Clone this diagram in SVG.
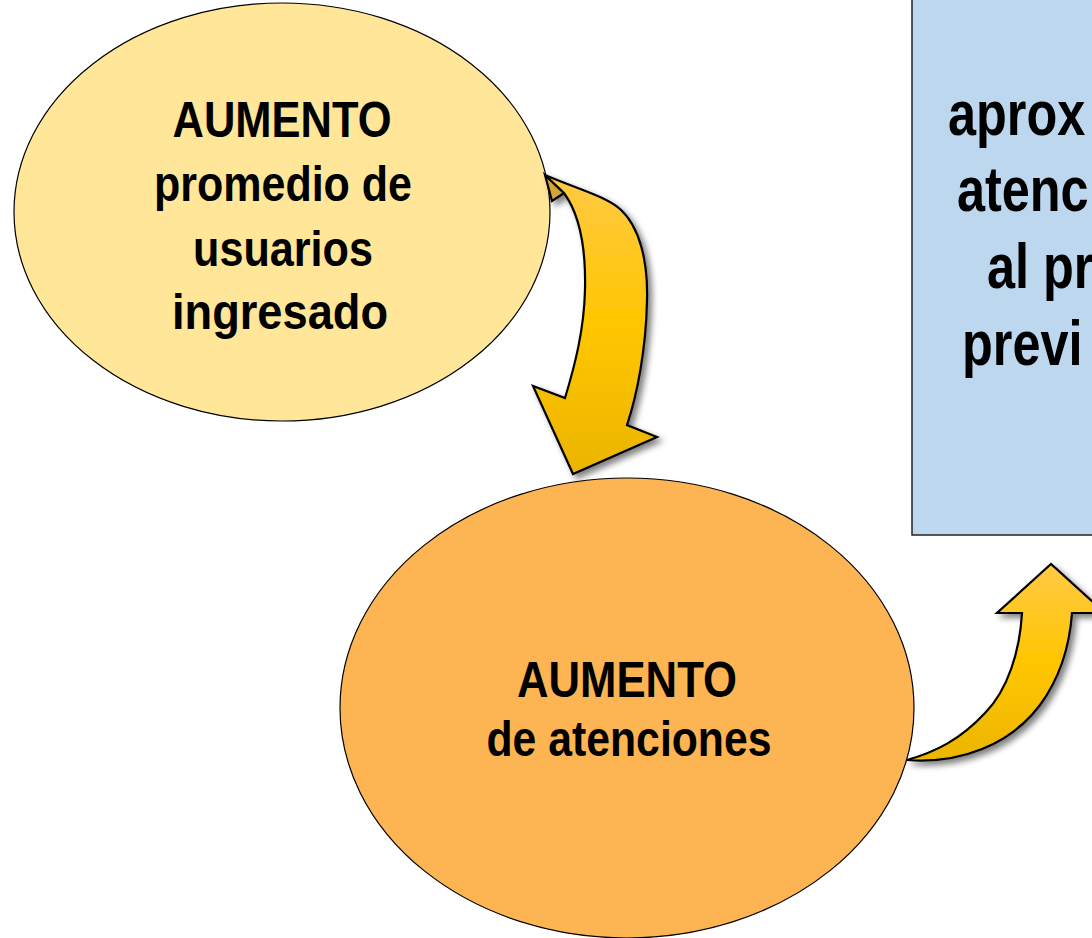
<svg xmlns="http://www.w3.org/2000/svg" width="1092" height="938" viewBox="0 0 1092 938">
<defs>
<style>
.lbl{font-family:"Liberation Sans",Arial,sans-serif;font-weight:bold;fill:#000;}
.ell{stroke:#000;stroke-width:1.2;}
.arr{stroke:#000;stroke-width:2.2;stroke-linejoin:miter;}
</style>
<linearGradient id="g1" gradientUnits="userSpaceOnUse" x1="0" y1="175" x2="0" y2="474">
<stop offset="0" stop-color="#FFC945"/>
<stop offset="0.5" stop-color="#FFC600"/>
<stop offset="1" stop-color="#EBB500"/>
</linearGradient>
<linearGradient id="g2" gradientUnits="userSpaceOnUse" x1="0" y1="564" x2="0" y2="762">
<stop offset="0" stop-color="#FFC945"/>
<stop offset="0.5" stop-color="#FFC600"/>
<stop offset="1" stop-color="#EBB500"/>
</linearGradient>
<filter id="sh" x="-20%" y="-20%" width="150%" height="150%">
<feGaussianBlur in="SourceAlpha" stdDeviation="3"/>
<feOffset dx="4" dy="4" result="b"/>
<feComponentTransfer><feFuncA type="linear" slope="0.5"/></feComponentTransfer>
<feMerge><feMergeNode/><feMergeNode in="SourceGraphic"/></feMerge>
</filter>
</defs>
<rect x="0" y="0" width="1092" height="938" fill="#fff"/>

<g id="box">
<rect x="912" y="-10" width="200" height="545" fill="#BDD7EE" stroke="#222" stroke-width="1.5"/>
<g class="lbl" font-size="63">
<text transform="translate(948,135) scale(0.8,1)">aprox</text>
<text transform="translate(957,211) scale(0.8,1)">atenc</text>
<text transform="translate(987,288) scale(0.8,1)">al pr</text>
<text transform="translate(962,365) scale(0.8,1)">previ</text>
</g>
</g>

<g id="node1">
<ellipse class="ell" cx="282" cy="212" rx="268" ry="209" fill="#FFE699"/>
<g class="lbl" font-size="50" text-anchor="middle">
<text x="282" y="137" textLength="219" lengthAdjust="spacingAndGlyphs">AUMENTO</text>
<text x="283" y="201" textLength="258" lengthAdjust="spacingAndGlyphs">promedio de</text>
<text x="283" y="266" textLength="180" lengthAdjust="spacingAndGlyphs">usuarios</text>
<text x="280" y="329" textLength="216" lengthAdjust="spacingAndGlyphs">ingresado</text>
</g>
</g>

<g id="node2">
<ellipse class="ell" cx="627" cy="708" rx="287" ry="230" fill="#FDB452"/>
<g class="lbl" font-size="50" text-anchor="middle">
<text x="627" y="697" textLength="220" lengthAdjust="spacingAndGlyphs">AUMENTO</text>
<text x="629" y="756" textLength="285" lengthAdjust="spacingAndGlyphs">de atenciones</text>
</g>
</g>

<g id="connectors">
<g filter="url(#sh)">
<path class="arr" fill="#D4A53A" d="M545,175 L564,193 L552,201 Z"/>
<path class="arr" fill="url(#g1)" d="M545,175 C575,188 605,196 620,209 C640,227 648,262 647,300 C646,350 637,395 627,425 L657,437 L573,474 L533,386 L565,398 C575,365 584,330 585,290 C586,250 580,215 564,193 Z"/>
</g>
<g filter="url(#sh)">
<path class="arr" fill="url(#g2)" d="M907,760 C960,764 1010,745 1040,705 C1062,675 1070,640 1072,613 L1105,613 L1051,564 L997,613 L1022,613 C1020,650 1008,690 985,713 C960,740 935,752 907,760 Z"/>
</g>
</g>
</svg>
